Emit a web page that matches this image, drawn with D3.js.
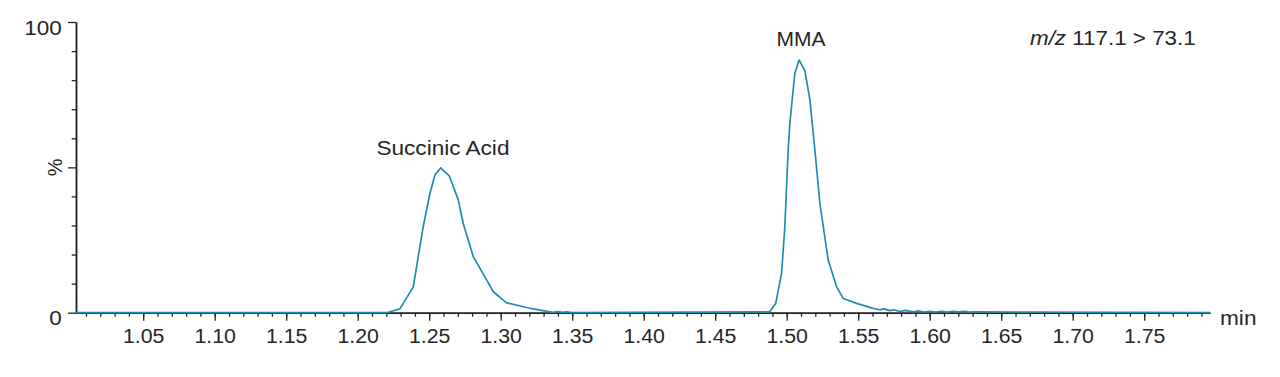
<!DOCTYPE html>
<html>
<head>
<meta charset="utf-8">
<script src="https://cdn.jsdelivr.net/npm/d3@7"></script>
<style>
  html, body { margin: 0; padding: 0; background: #fff; }
  svg { display: block; }
  text { font-family: "Liberation Sans", Arial, sans-serif; fill: #262626; }
</style>
</head>
<body>
<svg id="chart" width="1280" height="377"></svg>
<script>
// ---- data ----
const times = [1.003, 1.2202, 1.2295, 1.2388, 1.2458, 1.2505, 1.2540, 1.2580, 1.2640, 1.2703,
  1.2738, 1.2808, 1.2901, 1.2948, 1.3041, 1.3181, 1.3274, 1.3365, 1.3400, 1.3430, 1.3460, 1.3500,
  1.4881, 1.4923, 1.4964, 1.4987, 1.5010, 1.5022, 1.5057, 1.5087, 1.5127, 1.5162, 1.5197, 1.5232,
  1.5290, 1.5349, 1.5395, 1.5489, 1.5605, 1.5650, 1.5680, 1.5722, 1.5750, 1.5790, 1.5830, 1.5885,
  1.5920, 1.5960, 1.6000, 1.6040, 1.6080, 1.6120, 1.6160, 1.6200, 1.6240, 1.6280, 1.6300, 1.796];
const intensity = [0, 0, 1.3, 8.8, 29.6, 41.0, 47.4, 49.8, 47.1, 38.8,
  30.7, 19.3, 11.3, 7.2, 3.4, 1.8, 0.9, 0.1, 0.4, 0.1, 0.3, 0,
  0.3, 3.2, 13.5, 29.6, 55.9, 65.2, 82.4, 86.9, 83.3, 73.2, 55.9, 37.6,
  18.1, 8.9, 4.9, 3.2, 1.5, 1.0, 1.3, 0.7, 1.0, 0.4, 0.8, 0.3,
  0.6, 0.2, 0.5, 0.2, 0.5, 0.2, 0.5, 0.3, 0.5, 0.2, 0.3, 0];
const xMajorTicks = [1.05, 1.10, 1.15, 1.20, 1.25, 1.30, 1.35, 1.40, 1.45, 1.50, 1.55, 1.60, 1.65, 1.70, 1.75];
const xMinorTicks = d3.range(101, 180).map(d => d / 100);
const yMajorTicks = [0, 50, 100];
const yMinorTicks = [10, 20, 30, 40, 60, 70, 80, 90];
const yTickLabels = {0: "0", 100: "100"};
const peakLabels = ["Succinic Acid", "MMA"];
const peakTimes = [1.2580, 1.5087];
const peakValues = [49.8, 86.9];
const xDomain = [1.003, 1.796];
const transitionText = "117.1 > 73.1";

// ---- drawing ----
const svg = d3.select("#chart");
const x = d3.scaleLinear().domain(xDomain).range([76, 1210]);
const y = d3.scaleLinear().domain([0, 100]).range([312.7, 22]);
const axisColor = "#222";
const lineColor = "#1f8cb4";
const fontFam = "'Liberation Sans', Arial, sans-serif";

// x axis minor
const gxMinor = svg.append("g").attr("transform", `translate(0,${y(0)})`)
  .call(d3.axisBottom(x).tickValues(xMinorTicks).tickSize(4).tickSizeOuter(0).tickFormat(""));
// x axis major
const gx = svg.append("g").attr("transform", `translate(0,${y(0)})`)
  .call(d3.axisBottom(x).tickValues(xMajorTicks).tickSize(8).tickSizeOuter(0).tickFormat(d3.format(".2f")));
gx.selectAll("text").attr("y", 30.5).attr("dy", 0).style("font-size", "19.5px")
  .attr("textLength", 41.5).attr("lengthAdjust", "spacingAndGlyphs")
  .style("font-family", fontFam).attr("fill", "#262626");

// y axis minor
const gyMinor = svg.append("g").attr("transform", `translate(${x(xDomain[0])},0)`)
  .call(d3.axisLeft(y).tickValues(yMinorTicks).tickSize(4.3).tickSizeOuter(0).tickFormat(""));
// y axis major
const gy = svg.append("g").attr("transform", `translate(${x(xDomain[0])},0)`)
  .call(d3.axisLeft(y).tickValues(yMajorTicks).tickSize(8).tickSizeOuter(0)
    .tickFormat(d => yTickLabels[d] || ""));
gy.selectAll("text").attr("x", -14.3).attr("dy", 0).attr("y", 12)
  .style("font-size", "20px").style("font-family", fontFam)
  .attr("fill", "#262626")
  .each(function(d) {
    const t = yTickLabels[d];
    if (t) d3.select(this).attr("textLength", t.length * 12.5).attr("lengthAdjust", "spacingAndGlyphs");
  });

[gxMinor, gx, gyMinor, gy].forEach(g => {
  g.selectAll("path.domain").attr("stroke", axisColor).attr("stroke-width", 1.5);
  g.selectAll(".tick line").attr("stroke", axisColor).attr("stroke-width", 1.3);
});

// data line
const data = times.map((t, i) => ({t, v: intensity[i]}));
svg.append("path").datum(data)
  .attr("fill", "none").attr("stroke", lineColor).attr("stroke-width", 1.7)
  .attr("stroke-linejoin", "round")
  .attr("d", d3.line().x(d => x(d.t)).y(d => y(d.v)).curve(d3.curveLinear));

// peak labels
const labelWidths = [133, 49];
const labelOffsets = [13.4, 14.3];
peakLabels.forEach((lab, i) => {
  svg.append("text")
    .attr("x", x(peakTimes[i]) + (i === 0 ? 2.3 : 1.8))
    .attr("y", y(peakValues[i]) - labelOffsets[i])
    .attr("text-anchor", "middle")
    .style("font-size", "20px")
    .attr("textLength", labelWidths[i]).attr("lengthAdjust", "spacingAndGlyphs")
    .text(lab);
});

// transition label
const tr = svg.append("text").attr("x", 1030).attr("y", 44.5).style("font-size", "19.5px")
  .attr("textLength", 165.7).attr("lengthAdjust", "spacingAndGlyphs");
tr.append("tspan").style("font-style", "italic").text("m/z");
tr.append("tspan").text(" " + transitionText);

// axis titles
svg.append("text").attr("x", 1220).attr("y", 325).style("font-size", "20px")
  .attr("textLength", 36.5).attr("lengthAdjust", "spacingAndGlyphs").text("min");
svg.append("text").attr("transform", `translate(61.5,${y(50)}) rotate(-90)`)
  .attr("text-anchor", "middle").style("font-size", "20px").text("%");
</script>
</body>
</html>
